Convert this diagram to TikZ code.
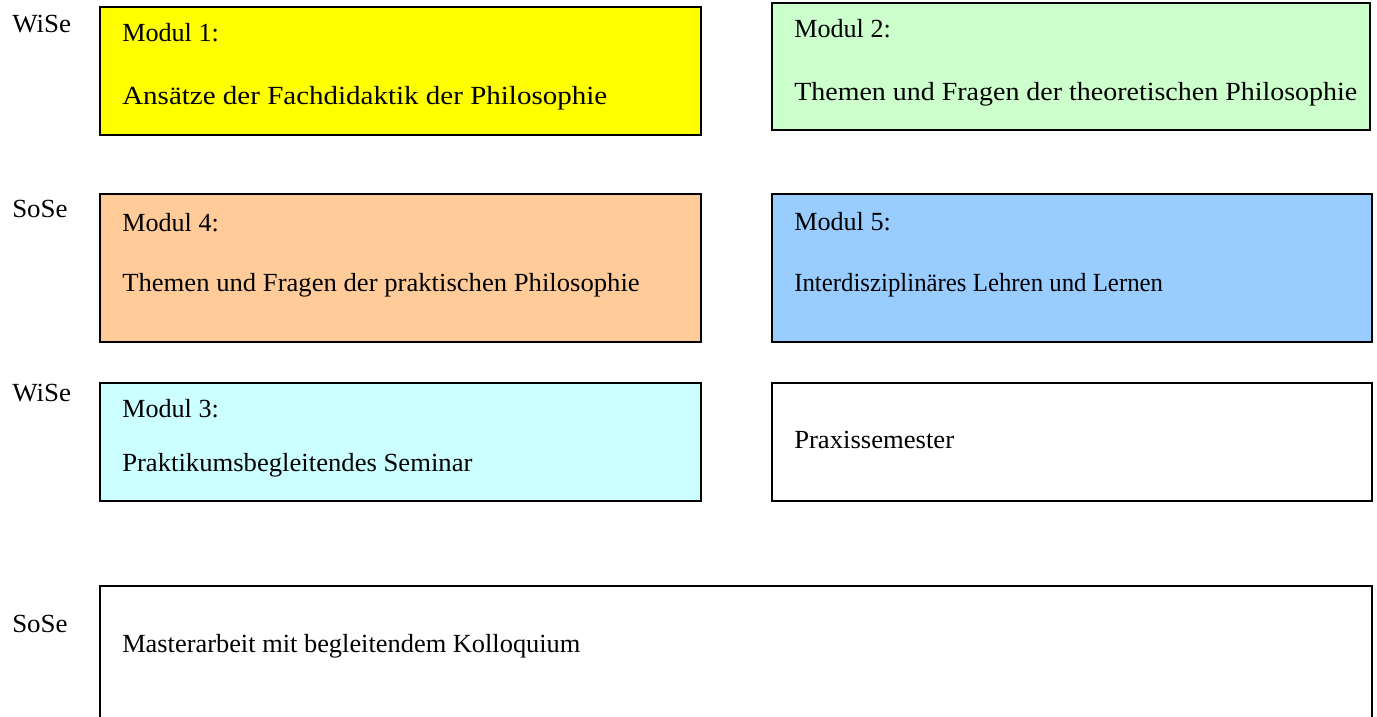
\documentclass[tikz,border=0pt]{standalone}
\usepackage{fontspec}
\usepackage{graphicx}
\setmainfont{Liberation Serif}
\definecolor{cYellow}{HTML}{FFFF00}
\definecolor{cGreen}{HTML}{CCFFCC}
\definecolor{cOrange}{HTML}{FFCC99}
\definecolor{cBlue}{HTML}{99CCFF}
\definecolor{cCyan}{HTML}{CCFFFF}
\tikzset{
  modbox/.style={draw=black, line width=1.5pt, rectangle, anchor=north west, inner sep=0pt, outer sep=0pt},
  lbl/.style={anchor=base west, inner sep=0pt, font=\fontsize{19.6}{23}\selectfont}
}
\begin{document}
\begin{tikzpicture}[x=0.75pt,y=-0.75pt]
\useasboundingbox[fill=white] (0,0) rectangle (1377,717);
% boxes
\node[modbox, fill=cYellow, minimum width={601*0.75pt}, minimum height={128*0.75pt}] (m1) at (100,7) {};
\node[modbox, fill=cGreen, minimum width={598*0.75pt}, minimum height={127*0.75pt}] (m2) at (772,3) {};
\node[modbox, fill=cOrange, minimum width={601*0.75pt}, minimum height={148*0.75pt}] (m4) at (100,194) {};
\node[modbox, fill=cBlue, minimum width={600*0.75pt}, minimum height={148*0.75pt}] (m5) at (772,194) {};
\node[modbox, fill=cCyan, minimum width={601*0.75pt}, minimum height={118*0.75pt}] (m3) at (100,383) {};
\node[modbox, fill=white, minimum width={600*0.75pt}, minimum height={118*0.75pt}] (px) at (772,383) {};
\node[modbox, fill=white, minimum width={1272*0.75pt}, minimum height={160*0.75pt}] (ma) at (100,586) {};
% semester labels
\node[lbl] (s1) at (12,33) {\scalebox{1.03}[1]{WiSe}};
\node[lbl] (s2) at (12,217) {\scalebox{1.03}[1]{SoSe}};
\node[lbl] (s3) at (12,401) {\scalebox{1.03}[1]{WiSe}};
\node[lbl] (s4) at (12,632) {\scalebox{1.03}[1]{SoSe}};
% texts
\node[lbl] (t1a) at (122,42) {Modul 1:};
\node[lbl] (t1b) at (122,104) {\scalebox{1.11}[1]{Ansätze der Fachdidaktik der Philosophie}};
\node[lbl] (t2a) at (794,38) {Modul 2:};
\node[lbl] (t2b) at (794,100) {\scalebox{1.07}[1]{Themen und Fragen der theoretischen Philosophie}};
\node[lbl] (t4a) at (122,231) {Modul 4:};
\node[lbl] (t4b) at (122,291) {\scalebox{1.02}[1]{Themen und Fragen der praktischen Philosophie}};
\node[lbl] (t5a) at (794,230) {Modul 5:};
\node[lbl] (t5b) at (794,291) {\scalebox{0.95}[1]{Interdisziplinäres Lehren und Lernen}};
\node[lbl] (t3a) at (122,417) {Modul 3:};
\node[lbl] (t3b) at (122,471) {\scalebox{1.02}[1]{Praktikumsbegleitendes Seminar}};
\node[lbl] (tpx) at (794,448) {\scalebox{1.02}[1]{Praxissemester}};
\node[lbl] (tma) at (122,652) {\scalebox{1.01}[1]{Masterarbeit mit begleitendem Kolloquium}};
\end{tikzpicture}
\end{document}
